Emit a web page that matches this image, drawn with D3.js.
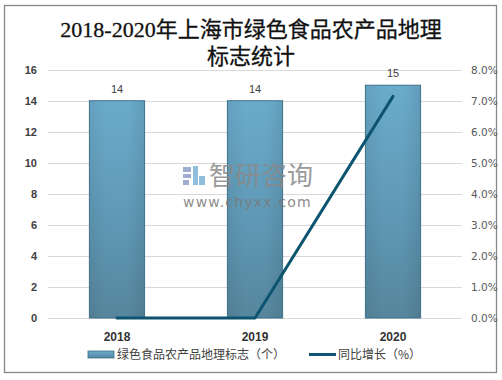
<!DOCTYPE html>
<html><head><meta charset="utf-8">
<script src="https://cdn.jsdelivr.net/npm/d3@7"></script>
<style>body{margin:0;background:#fff}svg{display:block}</style>
</head><body><svg id="c" width="502" height="380"></svg>
<script>
const categories = ["2018","2019","2020"];
const counts = [14,14,15];
const growth = [0,0,7.14];
const leftTicks = [0,2,4,6,8,10,12,14,16];
const rightTicks = [0,1,2,3,4,5,6,7,8];
const titleLines = ["2018-2020年上海市绿色食品农产品地理","标志统计"];
const legendLabels = ["绿色食品农产品地理标志（个）","同比增长（%）"];

const svg = d3.select("#c");
const cjk = "'Noto Sans CJK SC', sans-serif";
const m = {l:48, r:462, t:69.7, b:318};

svg.append("rect").attr("x",4.5).attr("y",5.5).attr("width",492).attr("height",367)
  .attr("fill","#fff").attr("stroke","#888").attr("stroke-width",1.3);

const defs = svg.append("defs");
const g1 = defs.append("linearGradient").attr("id","bg").attr("x1",0).attr("y1",0).attr("x2",0).attr("y2",1);
g1.append("stop").attr("offset","0%").attr("stop-color","#6aabcb");
g1.append("stop").attr("offset","55%").attr("stop-color","#5f98b5");
g1.append("stop").attr("offset","100%").attr("stop-color","#56869d");
const g2 = defs.append("linearGradient").attr("id","bg2").attr("x1",0).attr("y1",0).attr("x2",1).attr("y2",0);
g2.append("stop").attr("offset","0%").attr("stop-color","#000").attr("stop-opacity",0.06);
g2.append("stop").attr("offset","30%").attr("stop-color","#000").attr("stop-opacity",0);
g2.append("stop").attr("offset","70%").attr("stop-color","#000").attr("stop-opacity",0);
g2.append("stop").attr("offset","100%").attr("stop-color","#000").attr("stop-opacity",0.08);

// title
svg.append("text").attr("x",251).attr("y",0).attr("text-anchor","middle")
  .style("font-size","22px").style("font-family","'Liberation Serif', 'Noto Sans CJK SC', serif").attr("fill","#111")
  .style("stroke","#111").style("stroke-width","0.3px")
  .selectAll("tspan").data(titleLines).join("tspan")
  .attr("x",251).attr("y",(d,i)=>37+i*27).text(d=>d);

const x = d3.scaleBand().domain(categories).range([m.l,m.r]).padding(0);
const y = d3.scaleLinear().domain([0,16]).range([m.b,m.t]);
const y2 = d3.scaleLinear().domain([0,8]).range([m.b,m.t]);

// grid
svg.append("g").selectAll("line").data(leftTicks).join("line")
  .attr("x1",m.l).attr("x2",m.r).attr("y1",d=>Math.round(y(d))+0.5).attr("y2",d=>Math.round(y(d))+0.5)
  .attr("stroke","#d9d9d9").attr("stroke-width",1);

// left axis
const ax = d3.axisLeft(y).tickValues(leftTicks).tickSize(0).tickPadding(0);
svg.append("g").attr("transform","translate(37,0)").call(ax)
  .call(g=>g.select(".domain").remove())
  .selectAll("text").style("font-size","11px").style("font-weight","bold")
  .style("font-family","'Liberation Sans', Arial, sans-serif").attr("fill","#404040");

// right axis
const ax2 = d3.axisRight(y2).tickValues(rightTicks).tickSize(0).tickPadding(0).tickFormat(d=>d.toFixed(1)+"%");
svg.append("g").attr("transform","translate(471,0)").call(ax2)
  .call(g=>g.select(".domain").remove())
  .selectAll("text")
  .style("font-family","'DejaVu Sans', sans-serif").style("font-size","10.5px").attr("fill","#595959");

// bars
const bw = x.bandwidth()*0.4;
const bars = svg.append("g");
bars.selectAll("rect.b").data(counts).join("rect").attr("class","b")
  .attr("x",(d,i)=>x(categories[i])+x.bandwidth()/2-bw/2).attr("width",bw)
  .attr("y",d=>y(d)).attr("height",d=>m.b-y(d))
  .attr("fill","url(#bg)").attr("stroke","#3f7189").attr("stroke-width",1);
bars.selectAll("rect.s").data(counts).join("rect").attr("class","s")
  .attr("x",(d,i)=>x(categories[i])+x.bandwidth()/2-bw/2+0.5).attr("width",bw-1)
  .attr("y",d=>y(d)+0.5).attr("height",d=>m.b-y(d)-1)
  .attr("fill","url(#bg2)");
bars.selectAll("text").data(counts).join("text")
  .attr("x",(d,i)=>x(categories[i])+x.bandwidth()/2).attr("y",d=>y(d)-8)
  .attr("text-anchor","middle").style("font-size","11px")
  .style("font-family","'Liberation Sans', Arial, sans-serif").attr("fill","#404040").text(d=>d);

// watermark
const wm = svg.append("g").attr("opacity",0.85);
wm.append("rect").attr("x",183).attr("y",167).attr("width",8).attr("height",5).attr("fill","#8f9fc8");
wm.append("rect").attr("x",183).attr("y",174).attr("width",8).attr("height",4).attr("fill","#8f9fc8");
wm.append("rect").attr("x",183).attr("y",180).attr("width",6).attr("height",5).attr("fill","#8f9fc8");
wm.append("rect").attr("x",193).attr("y",166).attr("width",5).attr("height",19).attr("fill","#7cb4d8");
wm.append("rect").attr("x",199).attr("y",176).attr("width",6).attr("height",9).attr("fill","#7cb4d8");
wm.append("text").attr("x",209).attr("y",185).style("font-size","26px").style("font-family",cjk)
  .attr("fill","#8a8a8a").text("智研咨询");
wm.append("text").attr("x",183).attr("y",207).style("font-size","14px").style("letter-spacing","1.2px")
  .style("font-family","'DejaVu Sans', sans-serif").attr("fill","#7a7a7a").text("www.chyxx.com");

// line
const line = d3.line().x((d,i)=>x(categories[i])+x.bandwidth()/2).y(d=>y2(d));
svg.append("path").datum(growth).attr("d",line).attr("fill","none")
  .attr("stroke","#0d5470").attr("stroke-width",3).attr("stroke-linecap","round").attr("stroke-linejoin","round");

// x labels
svg.append("g").selectAll("text").data(categories).join("text")
  .attr("x",d=>x(d)+x.bandwidth()/2).attr("y",341).attr("text-anchor","middle")
  .style("font-size","12px").style("font-weight","bold").style("font-family","'Liberation Sans', Arial, sans-serif")
  .attr("fill","#333").text(d=>d);

// legend
const lg = svg.append("g");
lg.append("rect").attr("x",88).attr("y",351).attr("width",26).attr("height",7)
  .attr("fill","url(#bg)").attr("stroke","#3f7189").attr("stroke-width",0.8);
lg.append("text").attr("x",117).attr("y",359).style("font-size","12px").style("font-family",cjk)
  .attr("fill","#404040").text(legendLabels[0]);
lg.append("line").attr("x1",309).attr("x2",336).attr("y1",354.5).attr("y2",354.5)
  .attr("stroke","#0d5470").attr("stroke-width",3);
lg.append("text").attr("x",338).attr("y",359).style("font-size","12px").style("font-family",cjk)
  .attr("fill","#404040").text(legendLabels[1]);
</script></body></html>
